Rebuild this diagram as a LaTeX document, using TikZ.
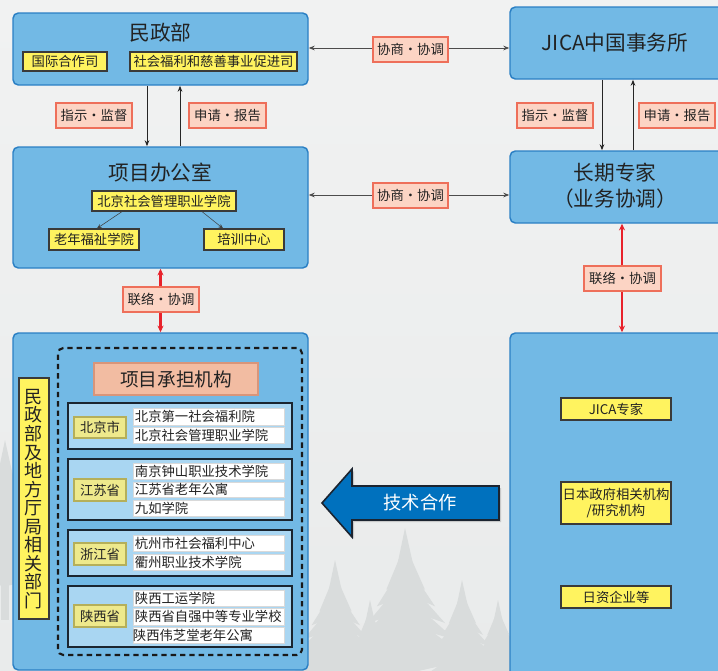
\documentclass[tikz,border=0pt]{standalone}
\usepackage{fontspec}
\setmainfont{Noto Sans CJK SC}
\usetikzlibrary{calc,arrows.meta}
\definecolor{bgtop}{HTML}{F1F2F2}
\definecolor{bgbot}{HTML}{E9EBEB}
\definecolor{treecol}{HTML}{D9DCDC}
\definecolor{boxblue}{HTML}{72B9E5}
\definecolor{boxedge}{HTML}{2B80C4}
\definecolor{yel}{HTML}{FFF35F}
\definecolor{ydark}{HTML}{3A3A3A}
\definecolor{pinkf}{HTML}{FCD4C4}
\definecolor{pinke}{HTML}{EE6F5A}
\definecolor{txt}{HTML}{222222}
\definecolor{grpf}{HTML}{A9D6F2}
\definecolor{grpe}{HTML}{1A2530}
\definecolor{provf}{HTML}{EEE98C}
\definecolor{prove}{HTML}{3F3F1A}
\definecolor{provm}{HTML}{B5AF5A}
\definecolor{salf}{HTML}{F2BCA2}
\definecolor{sale}{HTML}{5A3020}
\definecolor{salm}{HTML}{D8957A}
\definecolor{redc}{HTML}{E8222B}
\definecolor{arrblue}{HTML}{0071BE}
\definecolor{arredge}{HTML}{1B2430}
\newcommand\bx[7]{\node[#1, minimum width={(#5-#3)*0.75pt}, minimum height={(#6-#4)*0.75pt}] (#2) at ({(#3+#5)/2},{(#4+#6)/2}) {#7};}
\newcommand\firtree[3]{%
  \foreach \k in {0,1,...,6}{%
    \fill[treecol] (#1,{#2+\k*#3/9}) -- ({#1-(\k+1)*#3/16},{#2+\k*#3/9+0.3*#3}) -- ({#1-(\k+0.5)*#3/30},{#2+\k*#3/9+0.26*#3}) -- ({#1},{#2+\k*#3/9+0.31*#3}) -- ({#1+(\k+0.5)*#3/28},{#2+\k*#3/9+0.25*#3}) -- ({#1+(\k+1)*#3/15},{#2+\k*#3/9+0.3*#3}) -- cycle;}%
  \fill[treecol] ({#1-#3/40},{#2+0.5*#3}) rectangle ({#1+#3/40},{#2+1.2*#3});}
\begin{document}
\begin{tikzpicture}[x=0.75pt,y=-0.75pt,
  bluebox/.style={fill=boxblue, draw=boxedge, line width=1.1pt, rounded corners=4pt, inner sep=0pt},
  ybox/.style={fill=yel, draw=ydark, line width=0.9pt, inner sep=0pt, align=center, text=txt, font=\fontsize{10}{12.5}\selectfont},
  lbl/.style={fill=pinkf, draw=pinke, line width=0.8pt, inner sep=0pt, text=txt, font=\fontsize{10}{12}\selectfont},
  ttl/.style={text=txt, align=center, font=\fontsize{15.5}{19.5}\selectfont},
  grp/.style={fill=grpf, draw=grpe, line width=1pt, inner sep=0pt},
  prov/.style={fill=provf, draw=prove, double=provm, double distance=0.9pt, line width=0.5pt, inner sep=0pt, text=txt, font=\fontsize{10}{12}\selectfont},
  entry/.style={fill=white, draw=black!15, line width=0.5pt, inner sep=0pt},
  etxt/.style={anchor=west, inner sep=0pt, text=txt, font=\fontsize{10}{12}\selectfont},
  arr/.style={draw=black!85, line width=0.7pt, -{Stealth[length=4.5pt,width=3.5pt]}},
  darr/.style={draw=black!70, line width=0.6pt, {Stealth[length=4.5pt,width=3.5pt]}-{Stealth[length=4.5pt,width=3.5pt]}},
  thin/.style={draw=black!75, line width=0.4pt, -{Stealth[length=3.5pt,width=3pt]}},
  redarr/.style={draw=redc, line width=1.6pt, {Stealth[length=5pt,width=4.5pt]}-{Stealth[length=5pt,width=4.5pt]}},
  dashbox/.style={draw=black!90, line width=1.6pt, dash pattern=on 4pt off 3pt, rounded corners=4pt, inner sep=0pt}
]
\useasboundingbox (0,0) rectangle (718,671);
\shade[top color=bgtop, bottom color=bgbot] (0,0) rectangle (718,671);
% faint trees in the background
\firtree{5}{440}{150}
\firtree{405}{528}{150}
\firtree{335}{560}{125}
\firtree{462}{580}{105}
\firtree{498}{600}{85}
\firtree{370}{600}{90}

% ---- top left: 民政部
\bx{bluebox}{mz}{13}{13}{308}{85}{}
\node[ttl] (mzt) at (160.5,33) {民政部};
\bx{ybox}{gj}{23}{52}{107}{71}{国际合作司}
\bx{ybox}{sh}{130}{52}{297}{71}{社会福利和慈善事业促进司}

% ---- 项目办公室
\bx{bluebox}{pm}{13}{147}{308}{268}{}
\node[ttl] (pmt) at (160.5,173) {项目办公室};
\bx{ybox}{bj}{92}{191}{236}{211}{北京社会管理职业学院}
\bx{ybox}{ln}{49}{229}{139}{250}{老年福祉学院}
\bx{ybox}{px}{204}{229}{284}{250}{培训中心}
\draw[thin] ($(bj.south)+(-42,0)$) -- ($(ln.north)+(3,0)$);
\draw[thin] ($(bj.south)+(38,0)$) -- ($(px.north)+(-21,0)$);

% ---- JICA中国事务所 / 长期专家
\bx{bluebox}{jc}{510}{7}{724}{79}{}
\node[ttl] (jct) at (615,43) {JICA中国事务所};
\bx{bluebox}{cq}{510}{151}{724}{223}{}
\node[ttl] (cqt) at (615,186) {长期专家\\（业务协调）};

% ---- arrows between top boxes
\draw[arr] ($(mz.south)+(-13.5,0)$) -- ($(pm.north)+(-13.5,0)$);
\draw[arr] ($(pm.north)+(19.5,0)$) -- ($(mz.south)+(19.5,0)$);
\bx{lbl}{l1}{56}{103}{132}{128}{指示・监督}
\bx{lbl}{l2}{189}{103}{266}{128}{申请・报告}

\draw[arr] ($(jc.south)+(-15,0)$) -- ($(cq.north)+(-15,0)$);
\draw[arr] ($(cq.north)+(16,0)$) -- ($(jc.south)+(16,0)$);
\bx{lbl}{l5}{517}{103}{593}{128}{指示・监督}
\bx{lbl}{l6}{639}{103}{715}{128}{申请・报告}

\coordinate (h1) at (410,48);
\coordinate (h2) at (410,195);
\draw[darr] (mz.east |- h1) -- (jc.west |- h1);
\draw[darr] (pm.east |- h2) -- (cq.west |- h2);
\bx{lbl}{l3}{373}{37}{448}{62}{协商・协调}
\bx{lbl}{l4}{373}{183}{448}{208}{协商・协调}

% ---- bottom boxes
\bx{bluebox}{lb}{13}{333}{308}{670}{}
\bx{bluebox}{rb}{510}{333}{724}{680}{}

\draw[redarr] (pm.south) -- (pm.south |- lb.north);
\bx{lbl}{l8}{123}{287}{199}{312}{联络・协调}
\coordinate (rx) at (622,300);
\draw[redarr] (cq.south -| rx) -- (rb.north -| rx);
\bx{lbl}{l7}{584}{266}{661}{291}{联络・协调}

% ---- left bottom content
\bx{ybox}{vt}{19}{378}{49}{619}{}
\node[text=txt, align=center, inner sep=0pt, font=\fontsize{13.5}{13.9}\selectfont] (vtt) at (34,499) {民\\政\\部\\及\\地\\方\\厅\\局\\相\\关\\部\\门};
\bx{dashbox}{dsh}{58}{348}{302}{655}{}
\bx{fill=salf, draw=sale, double=salm, double distance=1pt, line width=0.6pt, inner sep=0pt, text=txt, font=\fontsize{14}{17}\selectfont}{xm}{94}{363}{258}{395}{项目承担机构}

% 北京市
\bx{grp}{g1}{68}{403}{292}{449}{}
\bx{prov}{p1}{74}{417}{126}{438}{北京市}
\bx{entry}{e11}{133}{408}{284}{425}{}
\node[etxt] (t11) at ($(e11.west)+(2,0)$) {北京第一社会福利院};
\bx{entry}{e12}{133}{427}{284}{443}{}
\node[etxt] (t12) at ($(e12.west)+(2,0)$) {北京社会管理职业学院};
% 江苏省
\bx{grp}{g2}{68}{459}{292}{520}{}
\bx{prov}{p2}{74}{479}{126}{501}{江苏省}
\bx{entry}{e21}{133}{463}{284}{479}{}
\node[etxt] (t21) at ($(e21.west)+(2,0)$) {南京钟山职业技术学院};
\bx{entry}{e22}{133}{482}{284}{497}{}
\node[etxt] (t22) at ($(e22.west)+(2,0)$) {江苏省老年公寓};
\bx{entry}{e23}{133}{500}{284}{516}{}
\node[etxt] (t23) at ($(e23.west)+(2,0)$) {九如学院};
% 浙江省
\bx{grp}{g3}{68}{530}{292}{576}{}
\bx{prov}{p3}{74}{543}{126}{565}{浙江省}
\bx{entry}{e31}{133}{535}{284}{551}{}
\node[etxt] (t31) at ($(e31.west)+(2,0)$) {杭州市社会福利中心};
\bx{entry}{e32}{133}{554}{284}{570}{}
\node[etxt] (t32) at ($(e32.west)+(2,0)$) {衢州职业技术学院};
% 陕西省
\bx{grp}{g4}{68}{586}{292}{647}{}
\bx{prov}{p4}{74}{605}{126}{627}{陕西省}
\bx{entry}{e41}{133}{590}{284}{606}{}
\node[etxt] (t41) at ($(e41.west)+(2,0)$) {陕西工运学院};
\bx{entry}{e42}{133}{608}{284}{625}{}
\node[etxt] (t42) at ($(e42.west)+(2,0)$) {陕西省自强中等专业学校};
\bx{entry}{e43}{133}{627}{284}{643}{}
\node[etxt] (t43) at ($(e43.west)+(0,0)$) {陕西伟芝堂老年公寓};

% ---- right bottom content
\bx{ybox}{r1}{561}{398}{671}{420}{JICA专家}
\bx{ybox}{r2}{561}{482}{671}{524}{日本政府相关机构\\/研究机构}
\bx{ybox}{r3}{561}{586}{671}{608}{日资企业等}

% ---- big arrow 技术合作
\fill[black!35, opacity=0.5] (324,505) -- (354,471) -- (354,488) -- (501,488) -- (501,522) -- (354,522) -- (354,539) -- cycle;
\filldraw[fill=arrblue, draw=arredge, line width=1.2pt] (322,503) -- (352,469) -- (352,486) -- (499,486) -- (499,520) -- (352,520) -- (352,537) -- cycle;
\node[text=white, inner sep=0pt, font=\fontsize{13.7}{16}\selectfont] (js) at (420,503) {技术合作};
\end{tikzpicture}
\end{document}
